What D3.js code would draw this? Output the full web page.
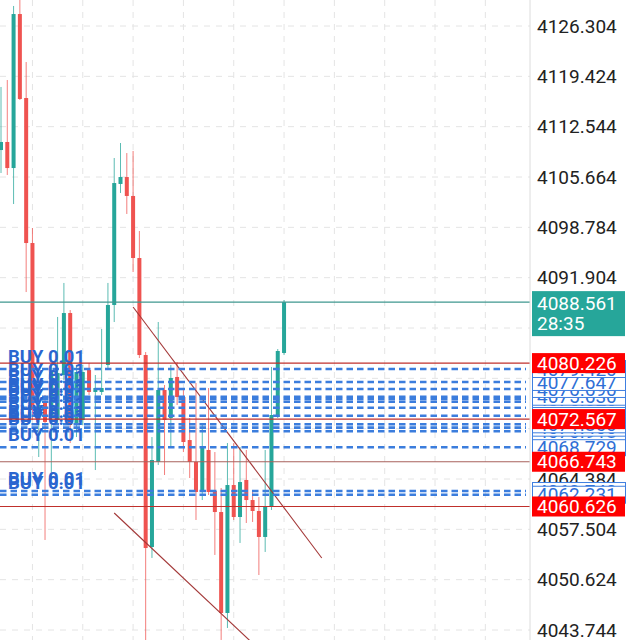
<!DOCTYPE html>
<html>
<head>
<meta charset="utf-8">
<script src="https://cdn.jsdelivr.net/npm/d3@7/dist/d3.min.js"></script>
<style>
  html, body { margin: 0; padding: 0; background: #fff; }
  svg { display: block; font-family: Roboto, "Noto Sans", sans-serif; }
</style>
</head>
<body>
<svg id="chart" width="640" height="640"></svg>
<script>
// candles, oldest first: [open, high, low, close]
const CANDLES = [
    [4109.35, 4117.97, 4106.21, 4110.45],
    [4110.45, 4118.92, 4105.94, 4106.89],
    [4106.89, 4129.04, 4101.97, 4127.94],
    [4127.94, 4130.54, 4116.19, 4116.33],
    [4116.46, 4121.38, 4089.94, 4096.64],
    [4096.64, 4098.69, 4072.45, 4073.81],
    [4073.13, 4075.87, 4067.39, 4074.50],
    [4074.77, 4075.87, 4056.05, 4072.18],
    [4072.72, 4079.97, 4064.66, 4079.01],
    [4072.45, 4086.53, 4071.77, 4078.87],
    [4078.60, 4091.18, 4077.92, 4087.07],
    [4087.07, 4087.48, 4069.30, 4071.77],
    [4071.77, 4079.97, 4070.12, 4079.01],
    [4072.45, 4079.97, 4071.77, 4079.01],
    [4079.28, 4080.24, 4075.87, 4076.28],
    [4076.28, 4078.60, 4065.61, 4076.82],
    [4076.28, 4084.89, 4075.87, 4076.82],
    [4079.97, 4091.18, 4079.28, 4088.17],
    [4088.17, 4108.26, 4085.84, 4104.84],
    [4104.71, 4110.31, 4103.48, 4105.66],
    [4105.66, 4108.94, 4100.61, 4103.07],
    [4103.07, 4109.22, 4092.68, 4094.59],
    [4094.59, 4098.28, 4080.92, 4081.33],
    [4081.33, 4081.74, 4041.69, 4054.95],
    [4055.09, 4070.12, 4053.59, 4066.98],
    [4066.71, 4085.84, 4066.30, 4076.55],
    [4076.55, 4077.23, 4064.93, 4072.45],
    [4072.72, 4079.97, 4068.62, 4078.19],
    [4078.33, 4080.38, 4074.50, 4075.59],
    [4075.59, 4076.55, 4068.07, 4069.44],
    [4069.71, 4072.72, 4064.52, 4066.71],
    [4066.71, 4077.51, 4058.78, 4062.61],
    [4062.61, 4072.04, 4061.51, 4068.62],
    [4068.35, 4076.82, 4062.20, 4062.61],
    [4062.74, 4068.07, 4054.00, 4059.87],
    [4059.87, 4063.15, 4042.38, 4046.07],
    [4046.07, 4069.30, 4044.02, 4063.56],
    [4063.56, 4069.30, 4058.78, 4059.19],
    [4059.19, 4068.76, 4055.64, 4063.97],
    [4064.25, 4068.35, 4058.37, 4061.51],
    [4061.51, 4062.88, 4058.51, 4060.01],
    [4060.01, 4061.92, 4051.26, 4056.46],
    [4056.46, 4068.35, 4054.41, 4060.69],
    [4060.56, 4079.69, 4060.15, 4073.13],
    [4072.86, 4082.15, 4072.72, 4081.88],
    [4081.61, 4088.85, 4081.33, 4088.561]
];

const Y_TICKS = [4126.304, 4119.424, 4112.544, 4105.664, 4098.784, 4091.904, 4085.024,
    4078.144, 4071.264, 4064.384, 4057.504, 4050.624, 4043.744];
const X_GRID = [5, 13, 21, 29, 37, 45, 53, 61, 69, 77];

const CURRENT_PRICE = 4088.561;
const TIMER = "28:35";

// pending buy orders, in the order the terminal stacks them
const BUY_LEVELS = [4062.74, 4062.231, 4068.729, 4070.918, 4071.40, 4071.86, 4073.03,
    4074.13, 4074.95, 4075.32, 4075.63, 4076.69, 4077.647, 4079.42];
const BUY_TEXT = "BUY 0.01";

const RED_LEVELS = [4080.226, 4072.567, 4066.743, 4060.626];
const RED_LINE_COLORS = ["#c0302c", "#c0302c", "#a8625c", "#c0302c"];

// trend lines: [candle index, price] pairs
const TRENDS = [
    [[21, 4087.89], [51, 4053.59]],
    [[18, 4059.74], [40, 4041.94]]
];

const UP = "#26a69a", DOWN = "#ef5350";
const W = 640, H = 640, PLOT_R = 530;

const svg = d3.select("#chart");

const x = d3.scaleLinear().domain([0, 84]).range([1, 1 + 6.29 * 84]);
const y = d3.scaleLinear().domain([4043.744, 4126.304]).range([630, 26]);

svg.append("rect").attr("width", W).attr("height", H).attr("fill", "#fff");

// grid
const grid = svg.append("g").attr("stroke", "#e4e4e4").attr("stroke-dasharray", "6,6");
grid.selectAll(".hg").data(Y_TICKS).enter().append("line")
    .attr("x1", 0).attr("x2", PLOT_R)
    .attr("y1", d => y(d)).attr("y2", d => y(d));
grid.selectAll(".vg").data(X_GRID).enter().append("line")
    .attr("x1", d => x(d)).attr("x2", d => x(d))
    .attr("y1", 0).attr("y2", H);

// candles
const candle = svg.append("g").selectAll("g").data(CANDLES).enter().append("g");
candle.append("line")
    .attr("x1", (d, i) => x(i)).attr("x2", (d, i) => x(i))
    .attr("y1", d => y(d[1])).attr("y2", d => y(d[2]))
    .attr("stroke", d => d[3] >= d[0] ? UP : DOWN)
    .attr("stroke-opacity", 0.75)
    .attr("stroke-width", 1);
candle.append("rect")
    .attr("x", (d, i) => x(i) - 2)
    .attr("width", 4)
    .attr("y", d => y(Math.max(d[0], d[3])))
    .attr("height", d => Math.max(1, Math.abs(y(d[0]) - y(d[3]))))
    .attr("fill", d => d[3] >= d[0] ? UP : DOWN);

// trend lines
svg.append("g").selectAll("line").data(TRENDS).enter().append("line")
    .attr("x1", d => x(d[0][0])).attr("y1", d => y(d[0][1]))
    .attr("x2", d => x(d[1][0])).attr("y2", d => y(d[1][1]))
    .attr("stroke", "#a33838").attr("stroke-width", 1.1);

// current price line
svg.append("line")
    .attr("x1", 0).attr("x2", PLOT_R)
    .attr("y1", y(CURRENT_PRICE)).attr("y2", y(CURRENT_PRICE))
    .attr("stroke", "#3f978f").attr("stroke-width", 1.2);

// buy order lines + labels
svg.append("g").selectAll("line").data(BUY_LEVELS).enter().append("line")
    .attr("x1", 0).attr("x2", PLOT_R - 4)
    .attr("y1", d => y(d)).attr("y2", d => y(d))
    .attr("stroke", "#3b7ddd").attr("stroke-width", 2.6)
    .attr("stroke-dasharray", "6.5,4");
svg.append("g").selectAll("text").data(BUY_LEVELS).enter().append("text")
    .attr("x", 8).attr("y", d => y(d) - 6)
    .attr("fill", "#2a66cf")
    .attr("font-size", 19).attr("font-weight", "bold")
    .attr("textLength", 77).attr("lengthAdjust", "spacingAndGlyphs")
    .text(BUY_TEXT);

// red level lines
svg.append("g").selectAll("line").data(RED_LEVELS).enter().append("line")
    .attr("x1", 0).attr("x2", PLOT_R)
    .attr("y1", d => y(d)).attr("y2", d => y(d))
    .attr("stroke", (d, i) => RED_LINE_COLORS[i]).attr("stroke-width", 1.2);

// right axis
svg.append("line").attr("x1", PLOT_R).attr("x2", PLOT_R).attr("y1", 0).attr("y2", H)
    .attr("stroke", "#dcdcdc");
const axis = svg.append("g").attr("transform", `translate(${PLOT_R},0)`)
    .call(d3.axisRight(y).tickValues(Y_TICKS).tickSize(0).tickPadding(7)
        .tickFormat(d3.format(".3f")));
axis.select(".domain").remove();
axis.selectAll("text").attr("font-size", 19).attr("fill", "#222")
    .attr("font-family", "Roboto, sans-serif");

// buy order price tags
const tag = svg.append("g").selectAll("g").data(BUY_LEVELS).enter().append("g")
    .attr("transform", d => `translate(532,${y(d)})`);
tag.append("rect").attr("x", 0.5).attr("y", -8.5).attr("width", 93).attr("height", 17)
    .attr("fill", "#fff").attr("stroke", "#3f7fe0");
tag.append("text").attr("x", 5).attr("dy", "0.35em")
    .attr("fill", "#2f6fd6").attr("font-size", 19)
    .text(d => d3.format(".3f")(d));

// red price tags
const rtag = svg.append("g").selectAll("g").data(RED_LEVELS).enter().append("g")
    .attr("transform", d => `translate(532,${y(d)})`);
rtag.append("rect").attr("y", -10).attr("width", 93).attr("height", 20).attr("fill", "#f00");
rtag.append("text").attr("x", 5).attr("dy", "0.35em")
    .attr("fill", "#fff").attr("font-size", 19)
    .text(d => d3.format(".3f")(d));

// current price tag
const cp = svg.append("g").attr("transform", `translate(532,${y(CURRENT_PRICE)})`);
cp.append("rect").attr("y", -11).attr("width", 93).attr("height", 45).attr("fill", UP);
cp.append("text").attr("x", 5).attr("y", 8).attr("fill", "#fff").attr("font-size", 19)
    .text(d3.format(".3f")(CURRENT_PRICE));
cp.append("text").attr("x", 5).attr("y", 28).attr("fill", "#fff").attr("font-size", 19)
    .text(TIMER);
</script>
</body>
</html>
